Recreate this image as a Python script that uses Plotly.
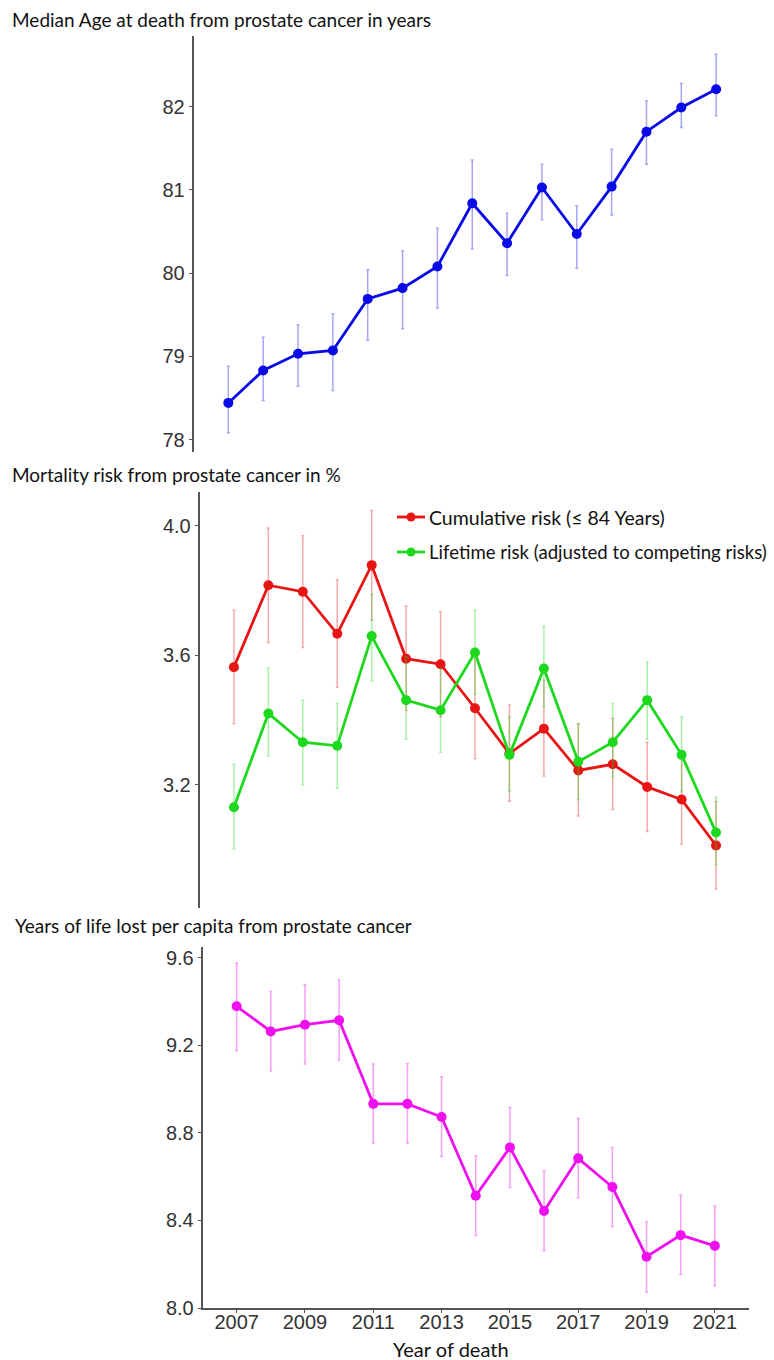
import plotly.graph_objects as go

years = list(range(2007, 2022))

# Panel 1: median age at death (years)
age = [78.44, 78.83, 79.03, 79.07, 79.69, 79.82, 80.08, 80.84, 80.36, 81.03, 80.47, 81.04, 81.70, 81.99, 82.21]
age_hi = [78.88, 79.23, 79.38, 79.51, 80.04, 80.27, 80.54, 81.36, 80.72, 81.31, 80.81, 81.49, 82.07, 82.28, 82.63]
age_lo = [78.08, 78.47, 78.64, 78.59, 79.19, 79.33, 79.58, 80.29, 79.97, 80.64, 80.06, 80.70, 81.31, 81.75, 81.89]

# Panel 2: mortality risk (%)
cum = [3.564, 3.817, 3.797, 3.667, 3.879, 3.590, 3.573, 3.437, 3.297, 3.374, 3.245, 3.264, 3.194, 3.155, 3.013]
cum_hi = [3.740, 3.994, 3.970, 3.834, 4.048, 3.752, 3.734, 3.590, 3.447, 3.524, 3.390, 3.405, 3.332, 3.296, 3.149]
cum_lo = [3.390, 3.640, 3.625, 3.502, 3.709, 3.430, 3.411, 3.281, 3.150, 3.228, 3.104, 3.124, 3.056, 3.018, 2.879]
life = [3.131, 3.421, 3.332, 3.321, 3.660, 3.462, 3.431, 3.609, 3.293, 3.560, 3.272, 3.332, 3.462, 3.293, 3.053]
life_hi = [3.264, 3.563, 3.462, 3.452, 3.789, 3.596, 3.560, 3.740, 3.411, 3.690, 3.388, 3.452, 3.580, 3.411, 3.162]
life_lo = [3.002, 3.289, 3.201, 3.190, 3.521, 3.341, 3.301, 3.481, 3.181, 3.442, 3.154, 3.224, 3.341, 3.179, 2.953]

# Panel 3: years of life lost per capita
yll = [9.379, 9.264, 9.295, 9.315, 8.933, 8.933, 8.873, 8.513, 8.734, 8.443, 8.684, 8.553, 8.234, 8.333, 8.284]
yll_hi = [9.577, 9.447, 9.478, 9.499, 9.115, 9.116, 9.057, 8.696, 8.916, 8.626, 8.866, 8.734, 8.394, 8.516, 8.466]
yll_lo = [9.176, 9.084, 9.115, 9.133, 8.754, 8.754, 8.693, 8.331, 8.551, 8.263, 8.504, 8.373, 8.073, 8.153, 8.102]

x_ticks = [2007, 2009, 2011, 2013, 2015, 2017, 2019, 2021]
age_ticks = [78, 79, 80, 81, 82]
risk_ticks = [3.2, 3.6, 4.0]
yll_ticks = [8.0, 8.4, 8.8, 9.2, 9.6]

titles = ["Median Age at death from prostate cancer in years",
          "Mortality risk from prostate cancer in %",
          "Years of life lost per capita from prostate cancer"]
legend_names = ["Cumulative risk (≤ 84 Years)", "Lifetime risk (adjusted to competing risks)"]
x_title = "Year of death"

W, H = 774, 1360
TXT = "Lato, 'Open Sans', sans-serif"
NUM = "'Liberation Sans', Arial, sans-serif"

BLUE, RED, GREEN, MAG = "#0A0AE6", "#E81515", "#1ED81E", "#EE10EE"


def fx(p):
    return p / W


def fy(p):
    return 1 - p / H


def err(vals, hi, lo, color):
    return dict(type="data", symmetric=False,
                array=[h - v for h, v in zip(hi, vals)],
                arrayminus=[v - l for v, l in zip(vals, lo)],
                color=color, thickness=1.5, width=1.5)


fig = go.Figure()

fig.add_trace(go.Scatter(x=years, y=age, mode="lines+markers", xaxis="x", yaxis="y",
                         line=dict(color=BLUE, width=2.8), marker=dict(size=10, color=BLUE),
                         error_y=err(age, age_hi, age_lo, "rgba(60,60,230,0.45)")))

fig.add_trace(go.Scatter(x=years, y=cum, mode="lines+markers", xaxis="x2", yaxis="y2", name=legend_names[0],
                         line=dict(color=RED, width=2.8), marker=dict(size=10, color=RED),
                         error_y=err(cum, cum_hi, cum_lo, "rgba(232,40,40,0.4)")))
fig.add_trace(go.Scatter(x=years, y=life, mode="lines+markers", xaxis="x2", yaxis="y2", name=legend_names[1],
                         line=dict(color=GREEN, width=2.8), marker=dict(size=10, color=GREEN),
                         error_y=err(life, life_hi, life_lo, "rgba(40,220,40,0.4)")))

fig.add_trace(go.Scatter(x=years, y=yll, mode="lines+markers", xaxis="x3", yaxis="y3",
                         line=dict(color=MAG, width=2.8), marker=dict(size=10, color=MAG),
                         error_y=err(yll, yll_hi, yll_lo, "rgba(238,40,238,0.45)")))

axis_col = "#555555"
tickfont = dict(family=NUM, size=20, color="#333333")

common_y = dict(showgrid=False, zeroline=False, showline=True, linecolor=axis_col, linewidth=1.5,
                ticks="outside", ticklen=3, tickcolor=axis_col, tickwidth=1, tickfont=tickfont,
                automargin=False)

fig.update_layout(
    width=W, height=H, margin=dict(l=0, r=0, t=0, b=0, autoexpand=False),
    paper_bgcolor="white", plot_bgcolor="white", showlegend=False,
    xaxis=dict(domain=[fx(193.5), fx(751)], range=[2006, 2022], anchor="y", visible=False),
    yaxis=dict(domain=[fy(452), fy(36)], range=[77.85, 82.85], anchor="x", tickvals=age_ticks,
               ticktext=[str(t) for t in age_ticks], **common_y),
    xaxis2=dict(domain=[fx(199.5), fx(750.5)], range=[2006, 2022], anchor="y2", visible=False),
    yaxis2=dict(domain=[fy(908), fy(492)], range=[2.82, 4.105], anchor="x2", tickvals=risk_ticks,
                ticktext=[f"{t:.1f}" for t in risk_ticks], **common_y),
    xaxis3=dict(domain=[fx(202.5), fx(749)], range=[2006, 2022], anchor="y3", showgrid=False, zeroline=False,
                showline=True, linecolor=axis_col, linewidth=1.5, ticks="outside", ticklen=3, automargin=False,
                tickcolor=axis_col, tickvals=x_ticks, ticktext=[str(t) for t in x_ticks], tickfont=tickfont,
                ticklabelstandoff=-8),
    yaxis3=dict(domain=[fy(1308), fy(947)], range=[8.0, 9.65], anchor="x3", tickvals=yll_ticks,
                ticktext=[f"{t:.1f}" for t in yll_ticks], **common_y),
)

# manual legend (text reaches the right edge, as in the reference)
for name, col, yrow, fs in zip(legend_names, [RED, GREEN], [517, 552], [19.5, 18.6]):
    fig.add_shape(type="line", xref="paper", yref="paper", x0=fx(397), x1=fx(425), y0=fy(yrow), y1=fy(yrow),
                  line=dict(color=col, width=2.8))
    fig.add_shape(type="circle", xref="paper", yref="paper", x0=fx(406.5), x1=fx(415.5),
                  y0=fy(yrow + 4.5), y1=fy(yrow - 4.5), line=dict(color=col, width=0), fillcolor=col)
    fig.add_annotation(text=name, xref="paper", yref="paper", x=fx(427), y=fy(yrow),
                       xanchor="left", yanchor="middle", showarrow=False,
                       font=dict(family=TXT, size=fs, color="#111111"))

title_pos = [(10, 20), (10, 474), (13, 925)]
for t, (xp, yp) in zip(titles, title_pos):
    fig.add_annotation(text=t, xref="paper", yref="paper", x=fx(xp), y=fy(yp),
                       xanchor="left", yanchor="middle", showarrow=False,
                       font=dict(family=TXT, size=19, color="#111111"))

fig.add_annotation(text=x_title, xref="paper", yref="paper", x=fx(451), y=fy(1349),
                   xanchor="center", yanchor="middle", showarrow=False,
                   font=dict(family=TXT, size=20, color="#111111"))

fig.write_html("out.html", config={"displayModeBar": False},
               post_script="document.body.style.margin='0';document.body.style.overflow='hidden';")
